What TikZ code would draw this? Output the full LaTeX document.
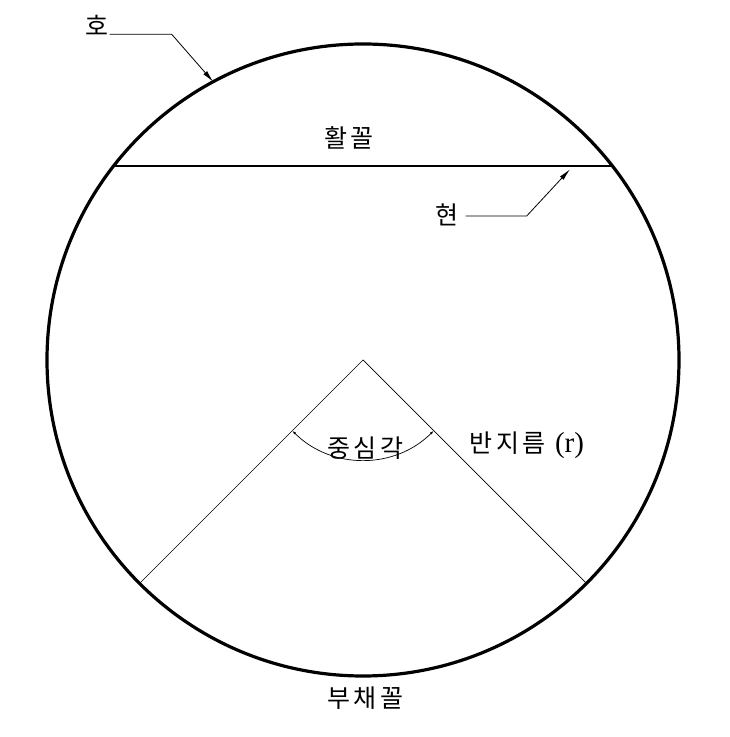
\documentclass[tikz,border=0pt]{standalone}
\usepackage{fontspec}
\setmainfont{Liberation Serif}
\newfontfamily\krfont[LetterSpace=14]{Noto Sans CJK KR}
\usetikzlibrary{arrows.meta, calc}

\begin{document}
\begin{tikzpicture}[x=1pt, y=1pt,
            circ/.style={line width=3.2pt},
            chordline/.style={line width=1.4pt},
            radline/.style={line width=0.7pt},
            leader/.style={line width=0.8pt, -{Latex[length=12pt, width=5pt]}},
            anglearc/.style={line width=0.7pt, {Latex[length=4pt, width=2.5pt]}-{Latex[length=4pt, width=2.5pt]}},
            lbl/.style={font=\krfont\fontsize{25}{28}\selectfont, inner sep=1pt}
        ]
            \useasboundingbox (0,0) rectangle (730,737);

% Circle
            \coordinate (O) at (363,377);
            \draw[circ] (O) circle (316);

% Chord
            \coordinate (chordL) at ($(O)+(142.1:316)$);
            \coordinate (chordR) at ($(O)+(37.9:316)$);
            \draw[chordline] (chordL) -- (chordR);

% Radii and central angle
            \coordinate (radL) at ($(O)+(-135:315)$);
            \coordinate (radR) at ($(O)+(-45:315)$);
            \draw[radline] (radL) -- (O) -- (radR);
            \coordinate (arcL) at ($(O)+(-135:100)$);
            \draw[anglearc] (arcL) arc (-135:-45:100);

% Labels
            \node[lbl] (ho) at (97,712) {호};
            \node[lbl] (hwal) at (349,599) {활꼴};
            \node[lbl] (hyeon) at (447,522) {현};
            \node[lbl] (angle) at (365,289) {중심각};
            \node[lbl] (radius) at (527,292) {반지름 {\rmfamily\fontsize{29}{30}\selectfont (r)}};
            \node[lbl] (fan) at (365,39) {부채꼴};

% Leaders
            \coordinate (hobend) at (171.7,702.7);
            \coordinate (hotip) at ($(O)+(118.3:316)$);
            \draw[leader] (ho.east |- hobend) -- (hobend) -- (hotip);
            \coordinate (hyeonbend) at (526.7,521);
            \coordinate (hyeontip) at (570,567.7);
            \draw[leader] (hyeon.east |- hyeonbend) ++(6,0) -- (hyeonbend) -- (hyeontip);

        \end{tikzpicture}
\end{document}
